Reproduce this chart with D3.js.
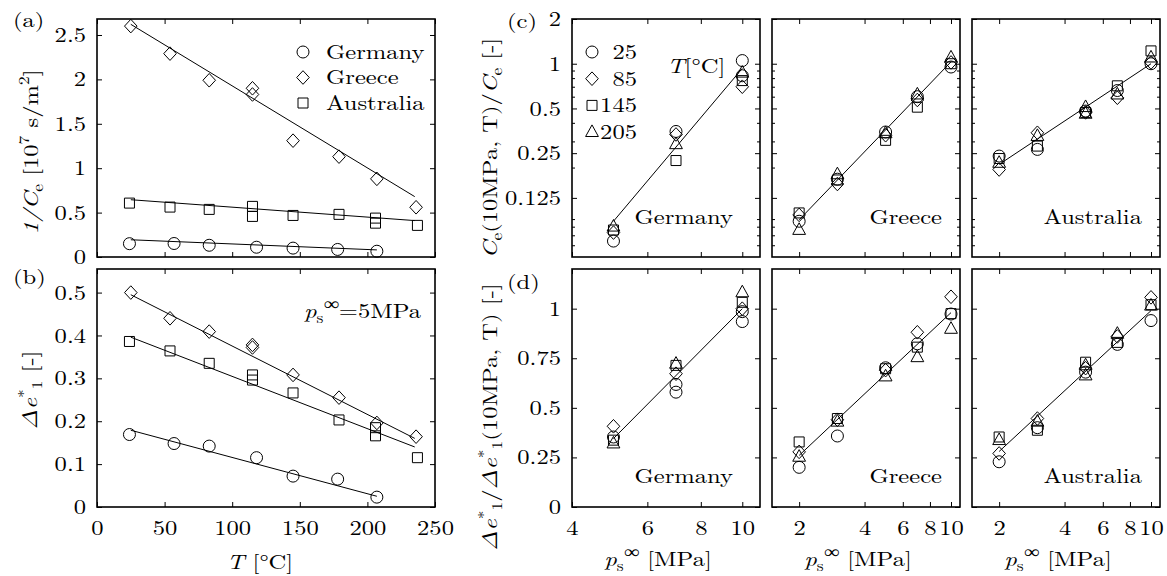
<!DOCTYPE html>
<html><head><meta charset="utf-8">
<script src="https://cdn.jsdelivr.net/npm/d3@7"></script>
<style>
body{margin:0;background:#fff;}
svg text{font-family:"Latin Modern Roman","Liberation Serif",serif;font-size:20.5px;fill:#000;}
</style></head><body>
<svg id="fig" width="1167" height="576"></svg>
<script>
// ---------------- data ----------------
const countries = ["Germany", "Greece", "Australia"];
const temperatures = ["25", "85", "145", "205"];

const tempTicks = [0, 50, 100, 150, 200, 250];
const aTicks = [0, 0.5, 1, 1.5, 2, 2.5];
const bTicks = [0, 0.1, 0.2, 0.3, 0.4, 0.5];
const cTicks = [0.125, 0.25, 0.5, 1, 2];
const cMinorTicks = [0.06, 0.07, 0.08, 0.09, 0.2, 0.3, 0.4, 0.6, 0.7, 0.8, 0.9];
const dTicks = [0, 0.25, 0.5, 0.75, 1];
const pTicksGermany = [4, 6, 8, 10];
const pTicksOther = [2, 4, 6, 8, 10];

// (a) 1/Ce against temperature [T, value]
const aGermany = [[24,0.150],[57,0.152],[83,0.132],[118,0.110],[145,0.100],[178,0.085],[207,0.065]];
const aGreece = [[25,2.60],[54,2.29],[83,1.99],[115,1.90],[115,1.83],[145,1.31],[179,1.13],[207,0.88],[236,0.56]];
const aAustralia = [[24,0.607],[54,0.562],[83,0.536],[115,0.570],[115,0.457],[145,0.468],[179,0.480],[206,0.438],[206,0.381],[237,0.356]];
const aFits = [[[25,0.194],[207,0.080]], [[25,2.62],[235,0.68]], [[25,0.645],[235,0.41]]];

// (b) strain increment at 5 MPa against temperature
const bGermany = [[24,0.169],[57,0.148],[83,0.142],[118,0.115],[145,0.072],[178,0.065],[207,0.023]];
const bGreece = [[25,0.500],[54,0.440],[83,0.409],[115,0.378],[115,0.372],[145,0.308],[179,0.255],[207,0.196],[236,0.164]];
const bAustralia = [[24,0.386],[54,0.364],[83,0.335],[115,0.308],[115,0.296],[145,0.266],[179,0.203],[206,0.185],[206,0.166],[237,0.115]];
const bFits = [[[25,0.179],[207,0.025]], [[25,0.495],[235,0.160]], [[25,0.396],[235,0.140]]];

// (c) normalised Ce against pressure, one list per temperature [p, value]
const cGermany = [
  [[5,0.064],[7,0.350],[10,1.05],[10,0.83]],
  [[5,0.073],[7,0.334],[10,0.70]],
  [[5,0.076],[7,0.223],[10,0.77]],
  [[5,0.080],[7,0.287],[10,0.87]]
];
const cGreece = [
  [[2,0.087],[3,0.167],[5,0.347],[7,0.60],[10,0.95]],
  [[2,0.096],[3,0.155],[5,0.330],[7,0.57],[10,1.02]],
  [[2,0.099],[3,0.165],[5,0.305],[7,0.51],[10,1.00]],
  [[2,0.076],[3,0.180],[5,0.340],[7,0.62],[10,1.10]]
];
const cAustralia = [
  [[2,0.239],[3,0.265],[5,0.48],[7,0.66],[10,1.00]],
  [[2,0.194],[3,0.343],[5,0.47],[7,0.59],[10,1.02]],
  [[2,0.230],[3,0.279],[5,0.47],[7,0.71],[10,1.22]],
  [[2,0.215],[3,0.326],[5,0.51],[5,0.46],[7,0.62],[10,1.10]]
];
const cFits = [[[5,0.087],[10,0.93]], [[2,0.089],[10,1.03]], [[2,0.21],[10,1.00]]];

// (d) normalised strain increment against pressure
const dGermany = [
  [[5,0.353],[7,0.618],[7,0.579],[10,0.985],[10,0.935]],
  [[5,0.407],[7,0.672],[10,1.000]],
  [[5,0.337],[7,0.714],[10,1.032]],
  [[5,0.320],[7,0.722],[10,1.082]]
];
const dGreece = [
  [[2,0.200],[3,0.358],[5,0.702],[7,0.823],[10,0.973]],
  [[2,0.278],[3,0.440],[5,0.690],[7,0.881],[10,1.060]],
  [[2,0.328],[3,0.446],[5,0.697],[7,0.806],[10,0.975]],
  [[2,0.253],[3,0.430],[5,0.658],[7,0.755],[10,0.898]]
];
const dAustralia = [
  [[2,0.228],[3,0.400],[5,0.680],[7,0.820],[10,0.940]],
  [[2,0.270],[3,0.446],[5,0.700],[7,0.860],[10,1.057]],
  [[2,0.353],[3,0.387],[5,0.730],[7,0.830],[10,1.020]],
  [[2,0.337],[3,0.430],[5,0.714],[5,0.663],[7,0.873],[10,1.015]]
];
const dFits = [[[5,0.345],[10,1.00]], [[2,0.26],[10,0.98]], [[2,0.28],[10,0.99]]];

// ---------------- helpers ----------------
const svg = d3.select("#fig");
const SUB = 14.5;       // sub/superscript size
const WIDE = 1.2;       // horizontal stretch of the lettering

const markerPath = {
  circle:   "M6,0A6,6 0 1,1 -6,0A6,6 0 1,1 6,0Z",
  diamond:  "M0,-6.8L6.3,0L0,6.8L-6.3,0Z",
  square:   "M-5,-5H5V5H-5Z",
  triangle: "M0,-7.2L6.4,4.4H-6.4Z"
};
const countryShapes = ["circle", "diamond", "square"];
const tempShapes = ["circle", "diamond", "square", "triangle"];

// text runs with italics, sub- and superscripts
function rich(sel, parts) {
  let cur = 0;
  parts.forEach(p => {
    const ts = sel.append("tspan").text(p.t);
    if (p.i) ts.attr("font-style", "italic");
    if (p.fs) ts.attr("font-size", p.fs);
    if (p.ff) ts.attr("font-family", p.ff);
    const off = p.off || 0;
    ts.attr("dy", off - cur);
    if (p.dx) ts.attr("dx", p.dx);
    cur = off;
  });
  return sel;
}
const INF = {t: "\u221E", fs: 18, off: -8, ff: "Liberation Serif"};

function styleAxis(g) {
  g.select(".domain").remove();
  g.selectAll(".tick line").attr("stroke", "#000").attr("stroke-width", 1);
  g.selectAll("text").attr("fill", "#000");
  g.attr("font-family", null).attr("font-size", null);
}

function panel(x, y, xTicks, yTicks, showX, showY, yMinor) {
  const [x0, x1] = x.range();
  const [yb, yt] = y.range();
  const g = svg.append("g");
  const fmt = d => String(d);
  g.append("g").attr("transform", `translate(0,${yb})`)
    .call(d3.axisBottom(x).tickValues(xTicks).tickSize(-5).tickPadding(13)
      .tickFormat(showX ? fmt : ""))
    .call(styleAxis);
  g.append("g").attr("transform", `translate(0,${yt})`)
    .call(d3.axisTop(x).tickValues(xTicks).tickSize(-5).tickFormat(""))
    .call(styleAxis);
  g.append("g").attr("transform", `translate(${x0},0)`)
    .call(d3.axisLeft(y).tickValues(yTicks).tickSize(-5).tickPadding(11)
      .tickFormat(showY ? fmt : ""))
    .call(styleAxis);
  g.append("g").attr("transform", `translate(${x1},0)`)
    .call(d3.axisRight(y).tickValues(yTicks).tickSize(-5).tickFormat(""))
    .call(styleAxis);
  if (yMinor) {
    g.append("g").attr("transform", `translate(${x0},0)`)
      .call(d3.axisLeft(y).tickValues(yMinor).tickSize(-3).tickFormat(""))
      .call(styleAxis);
    g.append("g").attr("transform", `translate(${x1},0)`)
      .call(d3.axisRight(y).tickValues(yMinor).tickSize(-3).tickFormat(""))
      .call(styleAxis);
  }
  g.append("rect").attr("x", x0).attr("y", yt).attr("width", x1 - x0).attr("height", yb - yt)
    .attr("fill", "none").attr("stroke", "#000").attr("stroke-width", 1.6);
  return g;
}

function drawFit(g, x, y, fit) {
  g.append("path").attr("d", d3.line().x(d => x(d[0])).y(d => y(d[1]))(fit))
    .attr("fill", "none").attr("stroke", "#000").attr("stroke-width", 1);
}

function drawMarkers(g, x, y, pts, shape) {
  g.selectAll(null).data(pts).join("path")
    .attr("d", markerPath[shape])
    .attr("transform", d => `translate(${x(d[0])},${y(d[1])})`)
    .attr("fill", "none").attr("stroke", "#000").attr("stroke-width", 1);
}

// ---------------- (a) and (b) ----------------
const xT = d3.scaleLinear().domain([0, 250]).range([97, 435]);
const yA = d3.scaleLinear().domain([0, 2.68]).range([257, 19]);
const yB = d3.scaleLinear().domain([0, 0.555]).range([507, 269]);

const gA = panel(xT, yA, tempTicks, aTicks, false, true);
[aGermany, aGreece, aAustralia].forEach((s, i) => {
  drawFit(gA, xT, yA, aFits[i]);
  drawMarkers(gA, xT, yA, s, countryShapes[i]);
});
countries.forEach((c, i) => {
  const yy = 52 + i * 25.5;
  gA.append("path").attr("d", markerPath[countryShapes[i]])
    .attr("transform", `translate(303,${yy})`)
    .attr("fill", "none").attr("stroke", "#000");
  gA.append("text").attr("x", 326).attr("y", yy + 7).text(c);
});

const gB = panel(xT, yB, tempTicks, bTicks, true, true);
[bGermany, bGreece, bAustralia].forEach((s, i) => {
  drawFit(gB, xT, yB, bFits[i]);
  drawMarkers(gB, xT, yB, s, countryShapes[i]);
});
rich(gB.append("text").attr("x", 304).attr("y", 318), [
  {t: "p", i: true}, {t: "s", fs: SUB, off: 5}, INF, {t: "=5MPa", off: 0}
]);

// panel letters and axis titles
svg.append("text").attr("x", 13).attr("y", 27).text("(a)");
svg.append("text").attr("x", 13).attr("y", 284).text("(b)");
rich(svg.append("text").attr("text-anchor", "middle")
  .attr("transform", "translate(38,152) rotate(-90)"), [
  {t: "1/C", i: true}, {t: "e", fs: SUB, off: 5}, {t: " [10", off: 0},
  {t: "7", fs: SUB, off: -9}, {t: " s/m", off: 0}, {t: "2", fs: SUB, off: -9}, {t: "]", off: 0}
]);
rich(svg.append("text").attr("text-anchor", "middle")
  .attr("transform", "translate(37,390) rotate(-90)"), [
  {t: "\u0394e", i: true}, {t: "*", fs: SUB, off: -8}, {t: "1", fs: SUB, off: 5},
  {t: " [-]", off: 0}
]);
rich(svg.append("text").attr("text-anchor", "middle").attr("x", 260).attr("y", 569), [
  {t: "T", i: true}, {t: " [\u00B0C]"}
]);

// ---------------- (c) and (d) ----------------
const colX = [[572, 760], [772, 960], [972, 1160]];
const pDomains = [[4, 11], [1.5, 11], [1.5, 11]];
const yC = d3.scaleLog().base(2).domain([0.05, 2]).range([257, 19]);
const yD = d3.scaleLinear().domain([0, 1.2]).range([507, 269]);
const cSets = [cGermany, cGreece, cAustralia];
const dSets = [dGermany, dGreece, dAustralia];
const nameEnd = [733, 942, 1142];

colX.forEach((r, k) => {
  const xP = d3.scaleLog().domain(pDomains[k]).range(r);
  const pT = k === 0 ? pTicksGermany : pTicksOther;

  const gC = panel(xP, yC, pT, cTicks, false, k === 0, cMinorTicks);
  drawFit(gC, xP, yC, cFits[k]);
  cSets[k].forEach((s, i) => drawMarkers(gC, xP, yC, s, tempShapes[i]));
  gC.append("text").attr("text-anchor", "end").attr("x", nameEnd[k]).attr("y", 224).text(countries[k]);

  const gD = panel(xP, yD, pT, dTicks, true, k === 0);
  drawFit(gD, xP, yD, dFits[k]);
  dSets[k].forEach((s, i) => drawMarkers(gD, xP, yD, s, tempShapes[i]));
  gD.append("text").attr("text-anchor", "end").attr("x", nameEnd[k]).attr("y", 483).text(countries[k]);

  rich(svg.append("text").attr("text-anchor", "middle")
    .attr("x", (r[0] + r[1]) / 2 - 8).attr("y", 566), [
    {t: "p", i: true}, {t: "s", fs: SUB, off: 5}, INF, {t: " [MPa]", off: 0}
  ]);
});

// temperature legend in (c)
temperatures.forEach((t, i) => {
  const yy = 52 + i * 26.7;
  svg.append("path").attr("d", markerPath[tempShapes[i]])
    .attr("transform", `translate(592,${yy})`)
    .attr("fill", "none").attr("stroke", "#000");
  svg.append("text").attr("text-anchor", "end").attr("x", 637).attr("y", yy + 7).text(t);
});
rich(svg.append("text").attr("x", 667).attr("y", 73), [{t: "T", i: true}, {t: "[\u00B0C]"}]);

svg.append("text").attr("x", 507).attr("y", 28).text("(c)");
svg.append("text").attr("x", 507).attr("y", 289).text("(d)");
rich(svg.append("text").attr("text-anchor", "middle")
  .attr("transform", "translate(497,148) rotate(-90)"), [
  {t: "C", i: true}, {t: "e", fs: SUB, off: 5}, {t: "(10MPa, T)/", off: 0},
  {t: "C", i: true}, {t: "e", fs: SUB, off: 5}, {t: " [-]", off: 0}
]);
rich(svg.append("text").attr("text-anchor", "middle")
  .attr("transform", "translate(497,417) rotate(-90)"), [
  {t: "\u0394e", i: true}, {t: "*", fs: SUB, off: -8}, {t: "1", fs: SUB, off: 5},
  {t: "/", off: 0},
  {t: "\u0394e", i: true}, {t: "*", fs: SUB, off: -8}, {t: "1", fs: SUB, off: 5},
  {t: "(10MPa, T) [-]", off: 0}
]);

// widen the lettering about each text's own anchor point
svg.selectAll("text").each(function () {
  const el = d3.select(this);
  const tr = el.attr("transform");
  if (tr) {
    el.attr("transform", `${tr} scale(${WIDE},1)`);
  } else {
    const x = +el.attr("x") || 0, y = +el.attr("y") || 0;
    el.attr("transform", `translate(${x},${y}) scale(${WIDE},1) translate(${-x},${-y})`);
  }
});
</script>
</body></html>
